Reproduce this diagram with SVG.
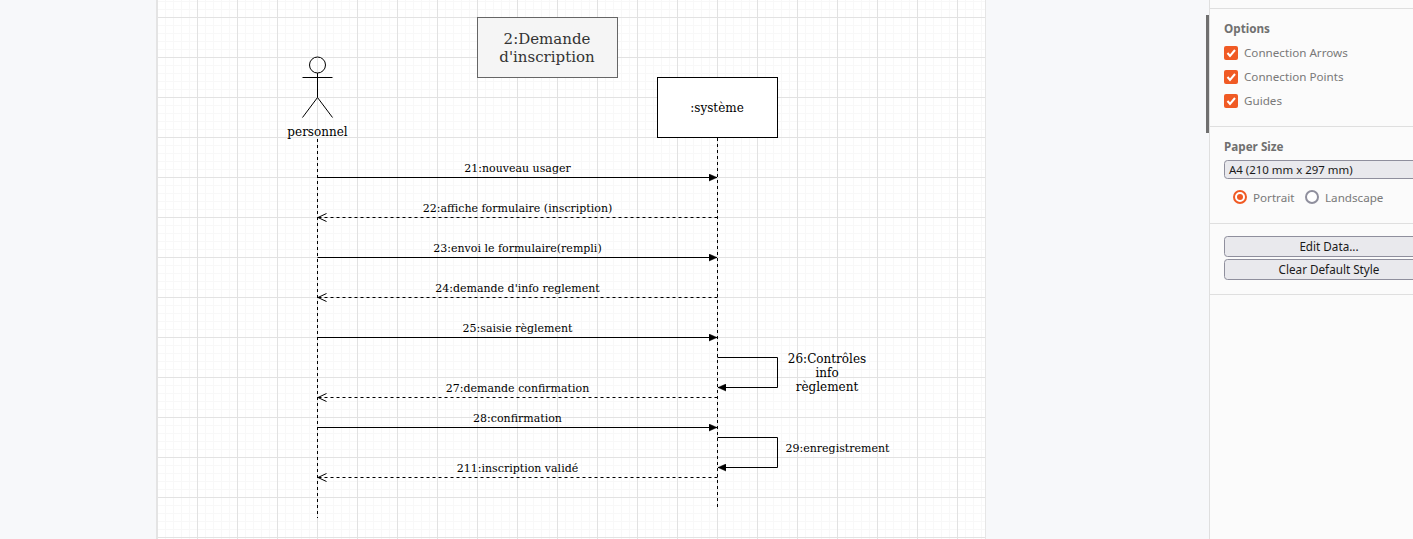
<svg xmlns="http://www.w3.org/2000/svg" width="1413" height="539" viewBox="0 0 1413 539">
<style>
.t{font-family:"DejaVu Serif",serif;fill:#000;text-anchor:middle}
.m{font-size:11px}
.n{font-size:12px}
.l{fill:none;stroke:#000;stroke-width:1}
.d{fill:none;stroke:#000;stroke-width:1;stroke-dasharray:3 3}
.u{font-family:"Noto Sans","Open Sans",sans-serif;font-size:11.65px;fill:#797979}
.h{font-family:"Noto Sans","Open Sans",sans-serif;font-size:11.7px;font-weight:700;fill:#707070}
.b{font-family:"Noto Sans","Open Sans",sans-serif;font-size:11.7px;fill:#1a1a1a;text-anchor:middle}
.s{stroke:#dfdfdf;stroke-width:1;fill:none}
.btn{fill:#e9e9ed;stroke:#8f8f9d;stroke-width:1}
.cb{fill:#f05a24}
.ck{fill:none;stroke:#fff;stroke-width:2}
</style>
<defs>
<pattern id="g" x="157" y="17" width="40" height="40" patternUnits="userSpaceOnUse">
<path d="M8.5 0V40M16.5 0V40M24.5 0V40M32.5 0V40M0 8.5H40M0 16.5H40M0 24.5H40M0 32.5H40" stroke="#f8f8f8" stroke-width="1" fill="none"/>
<path d="M0.5 0V40M0 0.5H40" stroke="#e2e2e2" stroke-width="1" fill="none"/>
</pattern>
<marker id="f" markerUnits="userSpaceOnUse" markerWidth="9" markerHeight="8" refX="8" refY="4" orient="auto"><path d="M0 0.5L8 4L0 7.5Z" fill="#000" stroke="#000" stroke-width="0.5"/></marker>
<marker id="o" markerUnits="userSpaceOnUse" markerWidth="10" markerHeight="10" refX="9.5" refY="5" orient="auto"><path d="M1 1L9.5 5L1 9" fill="none" stroke="#000" stroke-width="1"/></marker>
</defs>

<g id="background">
<rect width="1413" height="539" fill="#f7f8fa"/>
<rect x="157" y="0" width="828" height="539" fill="#fff"/>
<rect x="158" y="0" width="827" height="539" fill="url(#g)"/>
<path d="M157 0V539" stroke="#e4e4e4" stroke-width="2"/>
<path d="M985.5 0V539" stroke="#e6e6e6"/>
</g>

<g id="connectors">
<path class="d" d="M317.5 139V518"/>
<path class="d" d="M717.5 138V508"/>
<path class="l" marker-end="url(#f)" d="M317.5 177.5H717"/>
<path class="d" marker-end="url(#o)" d="M717.5 217.5H318"/>
<path class="l" marker-end="url(#f)" d="M317.5 257.5H717"/>
<path class="d" marker-end="url(#o)" d="M717.5 297.5H318"/>
<path class="l" marker-end="url(#f)" d="M317.5 337.5H717"/>
<path class="l" marker-end="url(#f)" d="M717.5 357.5H777.5V387.5H718"/>
<path class="d" marker-end="url(#o)" d="M717.5 397.5H318"/>
<path class="l" marker-end="url(#f)" d="M317.5 427.5H717"/>
<path class="l" marker-end="url(#f)" d="M717.5 437.5H777.5V467.5H718"/>
<path class="d" marker-end="url(#o)" d="M717.5 477.5H318"/>
</g>

<g id="labels">
<text class="t m" x="517.5" y="172">21:nouveau usager</text>
<text class="t m" x="517.5" y="212">22:affiche formulaire (inscription)</text>
<text class="t m" x="517.5" y="252">23:envoi le formulaire(rempli)</text>
<text class="t m" x="517.5" y="292">24:demande d'info reglement</text>
<text class="t m" x="517.5" y="332">25:saisie règlement</text>
<text class="t n" x="827" y="363">26:Contrôles</text>
<text class="t n" x="827" y="377">info</text>
<text class="t n" x="827" y="391">règlement</text>
<text class="t m" x="517.5" y="392">27:demande confirmation</text>
<text class="t m" x="517.5" y="422">28:confirmation</text>
<text class="t m" x="837.5" y="452">29:enregistrement</text>
<text class="t m" x="517.5" y="472">211:inscription validé</text>
</g>

<g id="title">
<rect x="477.5" y="17.5" width="140" height="60" fill="#f5f5f5" stroke="#666"/>
<text class="t" style="font-size:15px;fill:#333" x="547" y="44">2:Demande</text>
<text class="t" style="font-size:15px;fill:#333" x="547" y="62">d'inscription</text>
</g>

<g id="personnel">
<circle class="l" cx="317.5" cy="65" r="8" fill="#fff"/>
<path class="l" d="M317.5 73V97.5M302.5 77.5H332.5M302.5 117.5L317.5 97.5L332.5 117.5"/>
<text class="t n" x="317.5" y="136">personnel</text>
</g>

<g id="systeme">
<rect x="657.5" y="77.5" width="120" height="60" fill="#fff" stroke="#000"/>
<text class="t n" x="717" y="112">:système</text>
</g>

<g id="sidebar">
<rect x="1209" y="0" width="204" height="539" fill="#fbfbfb"/>
<path class="s" d="M1209.5 0V539M1210 8.5H1413M1210 126.5H1413M1210 223.5H1413M1210 294.5H1413"/>
<rect x="1206" y="15" width="3" height="118" fill="#6f6f6f"/>
<text class="h" x="1224" y="33">Options</text>
<rect class="cb" x="1224" y="46" width="14" height="14" rx="2"/><path class="ck" d="M1227.5 53L1230 56L1235 50"/>
<text class="u" x="1244" y="57">Connection Arrows</text>
<rect class="cb" x="1224" y="70" width="14" height="14" rx="2"/><path class="ck" d="M1227.5 77L1230 80L1235 74"/>
<text class="u" x="1244" y="81">Connection Points</text>
<rect class="cb" x="1224" y="94" width="14" height="14" rx="2"/><path class="ck" d="M1227.5 101L1230 104L1235 98"/>
<text class="u" x="1244" y="105">Guides</text>
<text class="h" x="1224" y="151">Paper Size</text>
<rect class="btn" x="1224.5" y="160.5" width="200" height="18" rx="3"/>
<text class="b" style="text-anchor:start;font-size:11.45px" x="1229" y="174">A4 (210 mm x 297 mm)</text>
<circle cx="1240" cy="197" r="6" fill="#fff" stroke="#f05a24" stroke-width="2"/>
<circle cx="1240" cy="197" r="3" fill="#f05a24"/>
<text class="u" x="1253" y="202">Portrait</text>
<circle cx="1312" cy="197" r="6" fill="#fff" stroke="#8f8f9d" stroke-width="2"/>
<text class="u" x="1325" y="202">Landscape</text>
<rect class="btn" x="1224.5" y="236.5" width="210" height="20" rx="3"/>
<text class="b" x="1329" y="251">Edit Data...</text>
<rect class="btn" x="1224.5" y="259.5" width="210" height="20" rx="3"/>
<text class="b" x="1329" y="274">Clear Default Style</text>
</g>
</svg>
